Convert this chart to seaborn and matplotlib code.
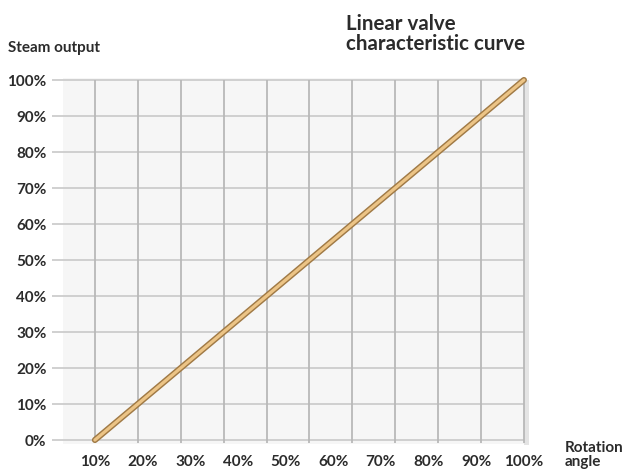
# Linear valve characteristic curve
import numpy as np
import pandas as pd
import seaborn as sns
import matplotlib.pyplot as plt

# data
rotation = [10, 100]          # rotation angle, %
steam = [0, 100]              # steam output, %
x_ticks = [10, 20, 30, 40, 50, 60, 70, 80, 90, 100]
x_labels = ['10%', '20%', '30%', '40%', '50%', '60%', '70%', '80%', '90%', '100%']
y_ticks = [0, 10, 20, 30, 40, 50, 60, 70, 80, 90, 100]
y_labels = ['0%', '10%', '20%', '30%', '40%', '50%', '60%', '70%', '80%', '90%', '100%']

df = pd.DataFrame({'Rotation': rotation, 'Steam': steam})

sns.set_style('white')
plt.rcParams['font.family'] = ['Lato', 'DejaVu Sans']
text_col = '#2b2b2b'

fig = plt.figure(figsize=(6.25, 4.7), dpi=100)
# axes placed so that x=1..101, y=-1.5..101.5 fit the reference grid
ax = fig.add_axes([52 / 625, (470 - 445.4) / 470, 476.7 / 625, 370.8 / 470])
ax.set_xlim(1, 101)
ax.set_ylim(-1.5, 101.5)

# plot area background, soft shadow and grid
ax.axvspan(100, 101.2, ymin=0.0, ymax=0.985, color='#e4e4e4', zorder=0, lw=0)
ax.axvspan(3.3, 100, ymin=0.005, ymax=0.99, color='#f6f6f6', zorder=0, lw=0)
ax.hlines(y_ticks, 1, 100, color='#cdcdcd', lw=1.3, zorder=1)
ax.vlines(np.linspace(10, 100, 11), -0.8, 100, color='#b8b8b8', lw=1.3, zorder=1)

# the characteristic line (dark edge + light core)
sns.lineplot(data=df, x='Rotation', y='Steam', ax=ax, color='#a07a46', lw=4.4,
             solid_capstyle='round', zorder=3)
sns.lineplot(data=df, x='Rotation', y='Steam', ax=ax, color='#ecc486', lw=2.3,
             solid_capstyle='round', zorder=4)

ax.set_xticks(x_ticks)
ax.set_xticklabels(x_labels)
ax.set_yticks(y_ticks)
ax.set_yticklabels(y_labels)
ax.tick_params(axis='both', length=0, labelsize=11, colors=text_col)
ax.tick_params(axis='x', pad=7)
ax.tick_params(axis='y', pad=4)
for lab in ax.get_xticklabels() + ax.get_yticklabels():
    lab.set_fontweight('bold')
ax.set_xlabel('')
ax.set_ylabel('')
for s in ax.spines.values():
    s.set_visible(False)

fig.text(346 / 625, 1 - 14 / 470, 'Linear valve\ncharacteristic curve', ha='left', va='top',
         fontsize=14.8, fontweight='bold', color=text_col, linespacing=1.0)
fig.text(8 / 625, 1 - 48 / 470, 'Steam output', ha='left', va='center',
         fontsize=11, fontweight='bold', color=text_col)
fig.text(565 / 625, 1 - 455 / 470, 'Rotation\nangle', ha='left', va='center',
         fontsize=11, fontweight='bold', color=text_col, linespacing=1.0)

fig.savefig('out.png', dpi=100)
